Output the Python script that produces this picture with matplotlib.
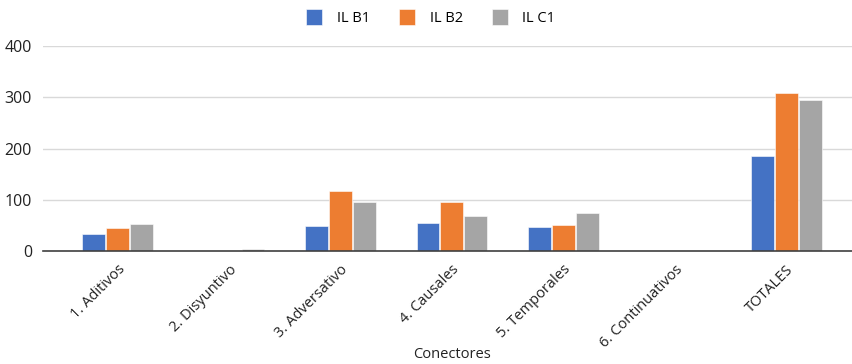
import matplotlib.pyplot as plt
import numpy as np

plt.rcParams['font.family'] = ['Open Sans', 'DejaVu Sans']

# datos del grafico
categorias = ['1. Aditivos', '2. Disyuntivo', '3. Adversativo', '4. Causales',
              '5. Temporales', '6. Continuativos', 'TOTALES']
series = ['IL B1', 'IL B2', 'IL C1']
il_b1 = [33, 0, 48, 55, 46, 0, 186]
il_b2 = [44, 0, 118, 95, 51, 0, 308]
il_c1 = [53, 3, 95, 69, 74, 0, 295]
colores = ['#4472C4', '#ED7D31', '#A5A5A5']

fig = plt.figure(figsize=(8.53, 3.64), dpi=100)
ax = fig.add_axes([0.0504, 0.3104, 0.9496, 0.5632])

x = np.arange(len(categorias))
ancho = 0.205
for i, (nombre, valores) in enumerate(zip(series, [il_b1, il_b2, il_c1])):
    ax.bar(x + (i - 1) * 0.215, valores, ancho, color=colores[i], label=nombre,
           edgecolor='white', linewidth=0.4, zorder=3)

ax.set_xlim(-0.67, 6.6)
ax.set_ylim(0, 400)
ax.set_yticks([0, 100, 200, 300, 400])
ax.tick_params(axis='y', length=0, labelsize=11.5, pad=8, colors='#222222')
ax.set_xticks(x)
ax.set_xticklabels(categorias, rotation=45, ha='right', rotation_mode='anchor',
                   fontsize=10.5, color='#222222')
ax.tick_params(axis='x', length=0, pad=8)
ax.grid(axis='y', color='#d9d9d9', linewidth=1, zorder=0)
for s in ['top', 'right', 'left']:
    ax.spines[s].set_visible(False)
ax.spines['bottom'].set_color('#404040')
ax.spines['bottom'].set_linewidth(1.2)
ax.spines['bottom'].set_zorder(4)

ax.set_xlabel('Conectores', fontsize=10.5, color='#222222')
ax.xaxis.set_label_coords(0.505, -0.47)

fig.legend(loc='center', bbox_to_anchor=(0.505, 0.952), ncol=3, frameon=False,
           fontsize=10.5, handlelength=1.1, handleheight=1.3, columnspacing=2.0,
           handletextpad=1.0)

fig.savefig('out.png', dpi=100)
